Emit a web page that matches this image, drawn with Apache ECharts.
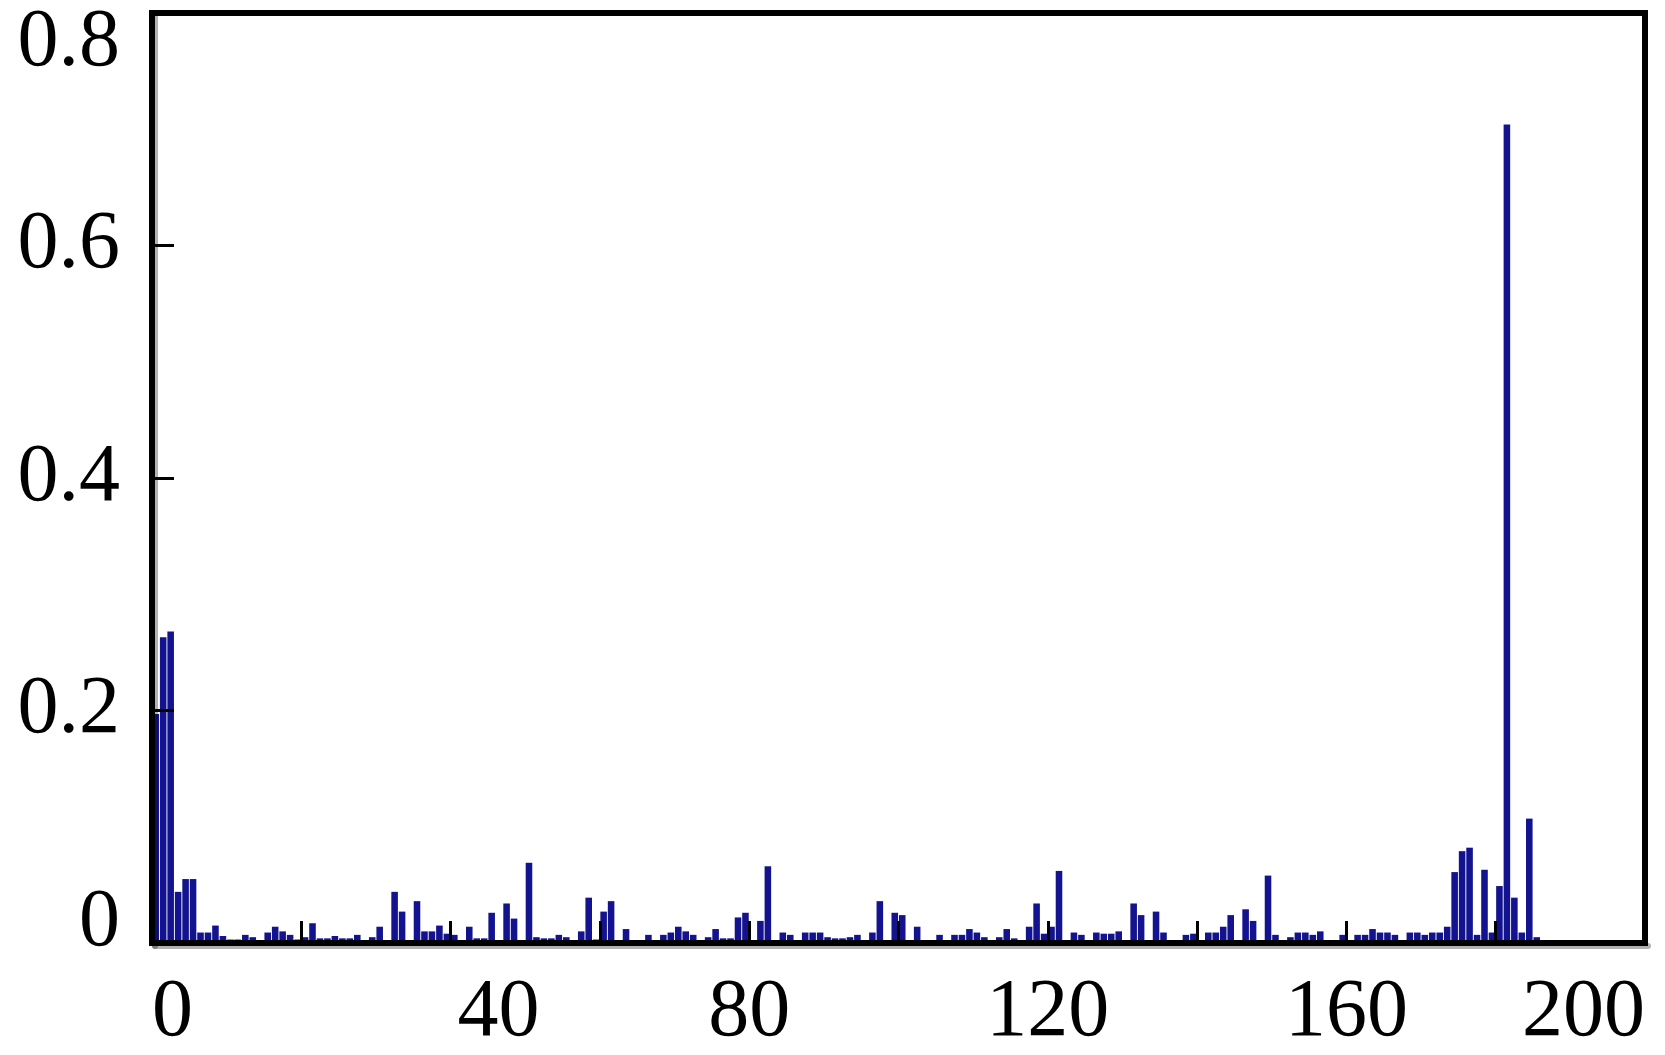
<!DOCTYPE html>
<html>
<head>
<meta charset="utf-8">
<script src="https://cdn.jsdelivr.net/npm/echarts@6/dist/echarts.min.js"></script>
<style>
html,body{margin:0;padding:0;background:#fff;}
#chart{width:1665px;height:1055px;}
</style>
</head>
<body>
<div id="chart"></div>
<script>
// Bin values, read left to right (bin 1 .. bin 186); remaining bins up to 200 are empty
const values = [
  0.197, 0.263, 0.268, 0.044, 0.055, 0.055, 0.009, 0.009, 0.015, 0.006,
  0.003, 0.003, 0.007, 0.005, 0.002, 0.009, 0.014, 0.010, 0.007, 0.003,
  0.005, 0.017, 0.004, 0.004, 0.006, 0.004, 0.004, 0.007, 0.002, 0.005,
  0.014, 0.002, 0.044, 0.027, 0.001, 0.036, 0.010, 0.010, 0.015, 0.008,
  0.007, 0.002, 0.014, 0.004, 0.004, 0.026, 0.000, 0.034, 0.021, 0.000,
  0.069, 0.005, 0.004, 0.004, 0.007, 0.005, 0.001, 0.010, 0.039, 0.003,
  0.027, 0.036, 0.001, 0.012, 0.001, 0.001, 0.007, 0.001, 0.007, 0.009,
  0.014, 0.010, 0.007, 0.001, 0.005, 0.012, 0.004, 0.004, 0.022, 0.026,
  0.000, 0.019, 0.066, 0.000, 0.009, 0.007, 0.001, 0.009, 0.009, 0.009,
  0.005, 0.004, 0.004, 0.005, 0.007, 0.001, 0.009, 0.036, 0.000, 0.026,
  0.024, 0.000, 0.014, 0.000, 0.000, 0.007, 0.000, 0.007, 0.007, 0.012,
  0.009, 0.005, 0.000, 0.005, 0.012, 0.004, 0.000, 0.014, 0.034, 0.008,
  0.014, 0.062, 0.000, 0.009, 0.007, 0.000, 0.009, 0.008, 0.008, 0.010,
  0.000, 0.034, 0.024, 0.000, 0.027, 0.009, 0.000, 0.000, 0.007, 0.008,
  0.000, 0.009, 0.009, 0.014, 0.024, 0.000, 0.029, 0.019, 0.000, 0.058,
  0.007, 0.000, 0.005, 0.009, 0.009, 0.007, 0.010, 0.000, 0.000, 0.007,
  0.000, 0.007, 0.007, 0.012, 0.009, 0.009, 0.007, 0.000, 0.009, 0.009,
  0.007, 0.009, 0.009, 0.014, 0.061, 0.079, 0.082, 0.007, 0.063, 0.009,
  0.049, 0.704, 0.039, 0.009, 0.107, 0.005
];
const binCount = 200;
const bins = Array.from({length: binCount}, (_, i) => String(i + 1));
const xTickLabels = [0, 40, 80, 120, 160, 200];
const yMax = 0.8;

const chart = echarts.init(document.getElementById('chart'));
const font = "'Liberation Serif', 'Times New Roman', serif";
const frameLine = {color: '#000', width: 6, shadowColor: 'rgba(0,0,0,0.3)', shadowOffsetX: 3, shadowOffsetY: 3, shadowBlur: 0};
chart.setOption({
  animation: false,
  backgroundColor: '#fff',
  grid: {
    left: 152, right: 20, top: 13, bottom: 112,
    outerBoundsMode: 'none', containLabel: false,
    show: true, borderColor: '#000', borderWidth: 6, backgroundColor: 'transparent'
  },
  xAxis: [
    {
      type: 'value', min: 0, max: binCount, interval: 20, position: 'bottom', z: 5,
      splitLine: {show: false},
      axisLine: {show: true, onZero: false, lineStyle: frameLine},
      axisTick: {show: true, inside: true, length: 22, lineStyle: {color: '#000', width: 3}},
      axisLabel: {
        show: true, margin: 29, color: '#000', fontFamily: font, fontSize: 82,
        alignMinLabel: 'left', alignMaxLabel: 'right',
        formatter: v => v === 40 ? '{s|40}' : (xTickLabels.indexOf(v) >= 0 ? String(v) : ''),
        rich: {s: {fontFamily: font, fontSize: 82, color: '#000', padding: [0, 0, 0, 96]}}
      }
    },
    {
      type: 'category', data: bins, boundaryGap: true, show: false, position: 'bottom'
    }
  ],
  yAxis: {
    type: 'value', min: 0, max: yMax, interval: 0.2, z: 5,
    splitLine: {show: false},
    axisLine: {show: true, lineStyle: frameLine},
    axisTick: {show: true, inside: true, length: 22, lineStyle: {color: '#000', width: 3}},
    axisLabel: {
      margin: 32, color: '#000', fontFamily: font, fontSize: 82, lineHeight: 48,
      verticalAlignMinLabel: 'bottom', verticalAlignMaxLabel: 'top',
      formatter: v => v === 0 ? '{b|0}' : (v === yMax ? '{t|0.8}' : String(Math.round(v * 10) / 10)),
      rich: {
        b: {fontFamily: font, fontSize: 82, color: '#000', lineHeight: 40},
        t: {fontFamily: font, fontSize: 82, color: '#000', lineHeight: 48, padding: [13, 0, 0, 0]}
      }
    }
  },
  series: [{
    type: 'bar',
    xAxisIndex: 1,
    data: values,
    barCategoryGap: '12%',
    itemStyle: {color: '#13138f'}
  }]
});
</script>
</body>
</html>
